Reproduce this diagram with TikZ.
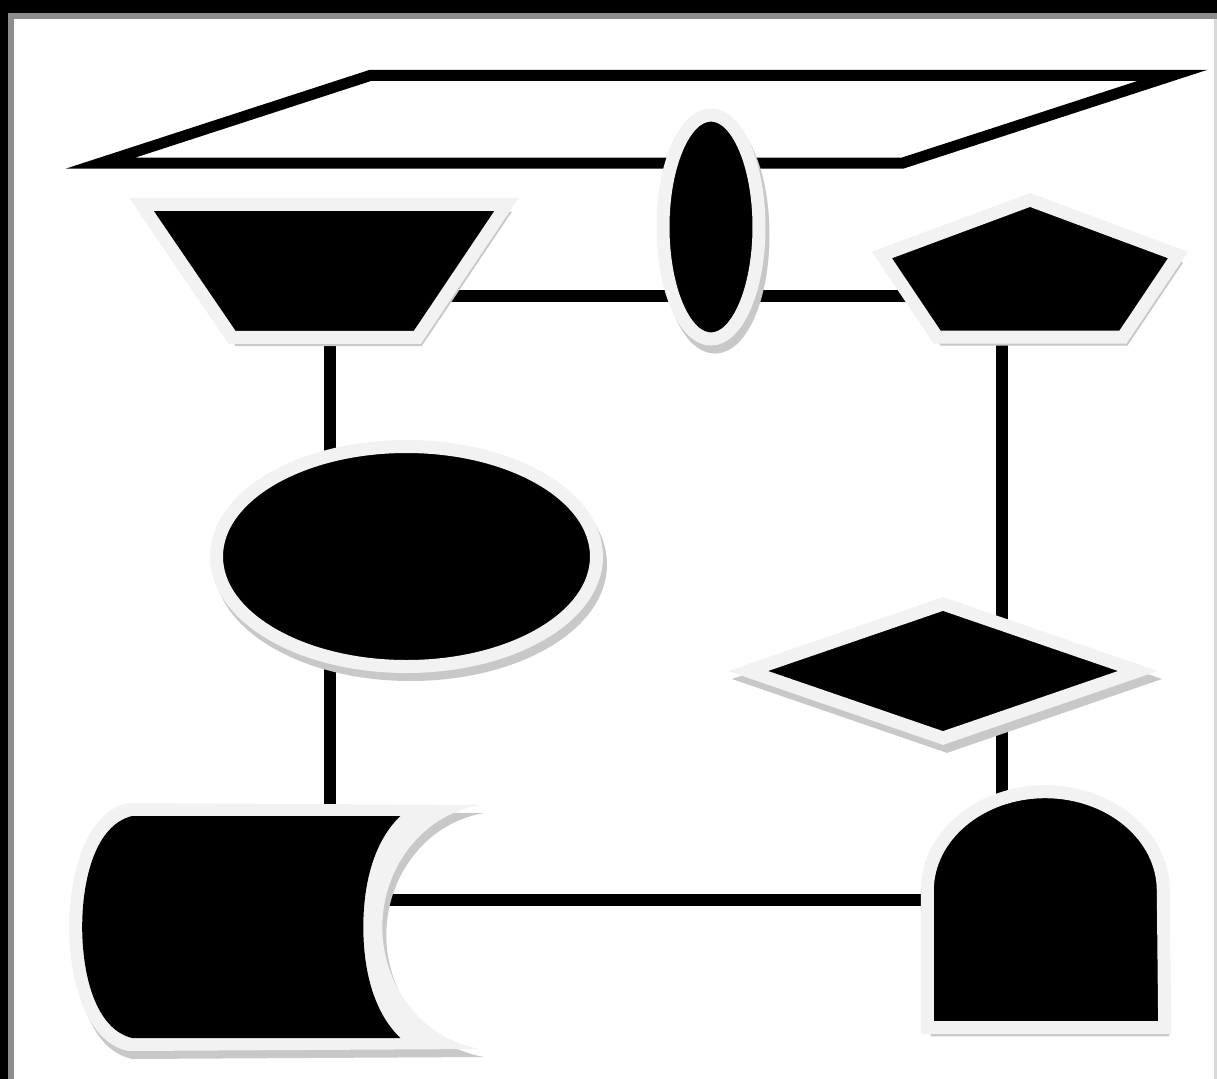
\documentclass[tikz,border=0pt]{standalone}
\usetikzlibrary{shapes.geometric,shadows,backgrounds}
\definecolor{bandgray}{RGB}{242,242,242}
\definecolor{shadowgray}{RGB}{200,200,200}
\definecolor{framegray}{RGB}{140,140,140}

\begin{document}
\begin{tikzpicture}[
    blob/.style={fill=black, draw=bandgray, line width=1.3mm, inner sep=1pt, outer sep=0pt,
        drop shadow={shadow xshift=0.4mm, shadow yshift=-0.8mm, fill=shadowgray, draw=shadowgray, opacity=1}},
    halo/.style={fill=bandgray,
        drop shadow={shadow xshift=0.4mm, shadow yshift=-0.8mm, fill=shadowgray, opacity=1}},
    io/.style={draw=black, fill=white, line width=1.1mm},
    box/.style={minimum width=#1, inner sep=0pt},
    link/.style={line width=1.2mm, black}
]
    \useasboundingbox (0,0) rectangle (12.17,-10.79);

    % frame
    \begin{scope}[on background layer]
        \fill[black] (0,0) rectangle (12.17,-10.79);
        \fill[framegray] (0.08,-0.13) rectangle (12.17,-10.79);
        \fill[white] (0.14,-0.19) rectangle (12.17,-10.79);
        \fill[black!15] (12.14,-0.19) rectangle (12.17,-10.79);
    \end{scope}

    % data slab, drawn by hand
    \node[box=10.71cm, minimum height=0.865cm] (io) at (6.365,-1.1925) {};
    \path[io] (io.south west) -- ++(8.02,0) -- (io.north east) -- ++(-8.02,0) -- cycle;

    % manual operation, drawn by hand
    \node[box=3.64cm, minimum height=1.33cm] (manual) at (3.24,-2.715) {};
    \path[blob] (manual.north west) -- (manual.north east) -- ++(-0.893,-1.33) -- ++(-1.854,0) -- cycle;

    \node[blob, ellipse, minimum width=0.96cm, minimum height=2.24cm] (junction) at (7.11,-2.27) {};

    % preparation, a flat pentagon
    \node[box=2.96cm, minimum height=1.37cm] (prep) at (10.30,-2.685) {};
    \path[blob, shift={(prep.center)}] (0,0.685) -- (1.48,0.135) -- (0.93,-0.685)
        -- (-0.93,-0.685) -- (-1.48,0.135) -- cycle;

    \node[blob, ellipse, minimum width=3.80cm, minimum height=2.20cm] (terminal) at (4.065,-5.565) {};
    \node[blob, diamond, minimum width=3.90cm, minimum height=1.34cm] (decide) at (9.43,-6.71) {};

    % stored data, drawn by hand
    \node[box=3.31cm, minimum height=2.35cm] (store) at (2.41,-9.27) {};
    \begin{scope}[shift={(store.center)}]
        \path[halo] (-1.128,1.24) -- (2.393,1.22)
            .. controls (1.793,1.12) and (1.413,0.57) .. (1.413,0)
            .. controls (1.413,-0.57) and (1.793,-1.12) .. (2.393,-1.22)
            -- (-1.128,-1.24)
            .. controls (-1.558,-1.15) and (-1.718,-0.52) .. (-1.718,0)
            .. controls (-1.718,0.52) and (-1.558,1.15) .. cycle;
        \fill[black] (-1.088,1.11) -- (1.593,1.11)
            .. controls (1.343,0.87) and (1.223,0.47) .. (1.223,0)
            .. controls (1.223,-0.47) and (1.343,-0.87) .. (1.593,-1.11)
            -- (-1.088,-1.11)
            .. controls (-1.458,-1.02) and (-1.588,-0.47) .. (-1.588,0)
            .. controls (-1.588,0.47) and (-1.458,1.02) .. cycle;
    \end{scope}

    % delay box, drawn by hand
    \node[box=2.36cm, minimum height=2.36cm] (delay) at (10.46,-9.09) {};
    \path[blob] (delay.south west) -- ++(0,1.37)
        arc[start angle=180, end angle=0, x radius=1.18, y radius=0.99] -- (delay.south east) -- cycle;

    \coordinate (lx) at (3.30,0);
    \coordinate (rx) at (10.02,0);
    \coordinate (ty) at (0,-2.96);
    \coordinate (by) at (0,-9.00);

    \begin{scope}[on background layer]
        \draw[link] (manual |- ty) -- (prep |- ty);
        \draw[link] (manual.center -| lx) -- (store.center -| lx);
        \draw[link] (prep.center -| rx) -- (delay.center -| rx);
        \draw[link] (store |- by) -- (delay |- by);
    \end{scope}
\end{tikzpicture}
\end{document}
